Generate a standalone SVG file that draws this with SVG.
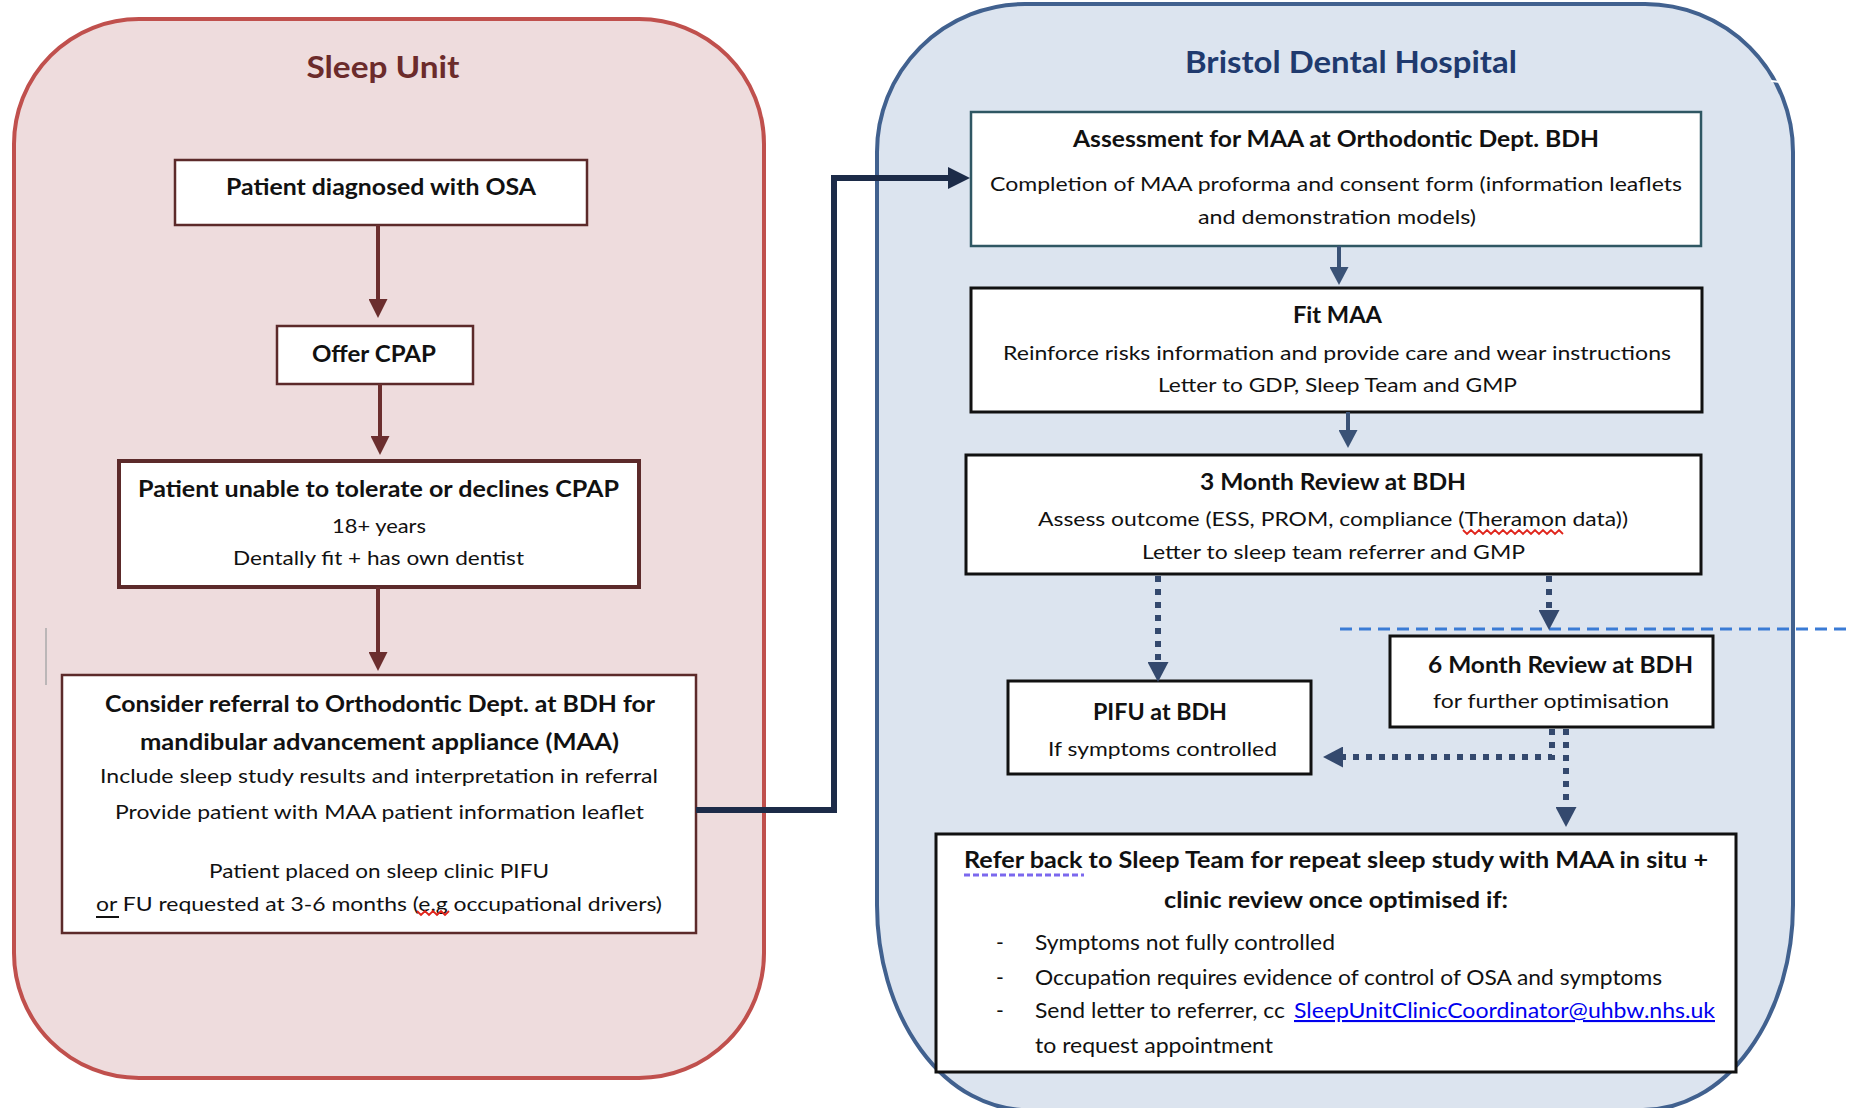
<svg xmlns="http://www.w3.org/2000/svg" width="1851" height="1108" viewBox="0 0 1851 1108">
<style>
text{font-family:Lato,"Open Sans","Liberation Sans",sans-serif;fill:#111;}
.b{font-weight:bold;}
.h{font-size:22px;font-weight:bold;}
.t{font-size:20px;}
.tb{font-size:21px;}
.c{text-anchor:middle;}
.box{fill:#fff;}
.bx-br{stroke:#5C2A2A;stroke-width:2.5;}
.bx-k{stroke:#111;stroke-width:3;}
.a-br{stroke:#6B2E2E;stroke-width:4;fill:none;}
.a-sl{stroke:#3A5276;stroke-width:4;fill:none;}
.a-dot{stroke:#34496E;stroke-width:6;stroke-dasharray:6 7;fill:none;}
</style>
<defs>
<marker id="m-br" viewBox="0 0 19 19" markerWidth="19" markerHeight="19" refX="0" refY="9.5" orient="auto" markerUnits="userSpaceOnUse"><path d="M0,0 L19,9.5 L0,19 z" fill="#6B2E2E"/></marker>
<marker id="m-nv" viewBox="0 0 22 22" markerWidth="22" markerHeight="22" refX="0" refY="11" orient="auto" markerUnits="userSpaceOnUse"><path d="M0,0 L22,11 L0,22 z" fill="#1C2B48"/></marker>
<marker id="m-sl" viewBox="0 0 18 19" markerWidth="18" markerHeight="19" refX="0" refY="9.5" orient="auto" markerUnits="userSpaceOnUse"><path d="M0,0 L18,9.5 L0,19 z" fill="#3A5276"/></marker>
<marker id="m-dt" viewBox="0 0 20 21" markerWidth="20" markerHeight="21" refX="0" refY="10.5" orient="auto" markerUnits="userSpaceOnUse"><path d="M0,0 L20,10.5 L0,21 z" fill="#34496E"/></marker>
</defs>

<g id="panel-sleep-unit">
<path d="M14,144 A125,125 0 0 1 139,19 H639 A125,125 0 0 1 764,144 V953 A125,125 0 0 1 639,1078 H139 A125,125 0 0 1 14,953 Z" fill="#EEDCDD" stroke="#C0504D" stroke-width="4"/>
<text x="383" y="78" class="c b" font-size="30" fill="#6B2B2B" style="fill:#6B2B2B" textLength="153" lengthAdjust="spacingAndGlyphs">Sleep Unit</text>
<line x1="46" y1="628" x2="46" y2="685" stroke="#AAAAAA" stroke-width="1.5"/>
</g>

<g id="panel-bdh">
<path d="M877,152 A148,148 0 0 1 1025,4 H1645 A148,148 0 0 1 1793,152 V905 A150,205 0 0 1 1643,1110 H1027 A150,205 0 0 1 877,905 Z" fill="#DCE4EF" stroke="#41618F" stroke-width="4"/>
<line x1="1771" y1="81" x2="1781" y2="82" stroke="#ffffff" stroke-width="2"/>
<text x="1351" y="73" class="c b" font-size="31" style="fill:#1F3A6E" textLength="332" lengthAdjust="spacingAndGlyphs">Bristol Dental Hospital</text>
</g>

<g id="node-osa">
<rect x="175" y="160" width="412" height="65" class="box bx-br"/>
<text x="381" y="195" class="c h" textLength="310" lengthAdjust="spacingAndGlyphs">Patient diagnosed with OSA</text>
</g>

<g id="node-cpap">
<rect x="277" y="326" width="196" height="58" class="box bx-br"/>
<text x="374" y="362" class="c h" textLength="124" lengthAdjust="spacingAndGlyphs">Offer CPAP</text>
</g>

<g id="node-declines">
<rect x="119" y="461" width="520" height="126" class="box" stroke="#5C2A2A" stroke-width="4"/>
<text x="378.5" y="497" class="c h" textLength="481" lengthAdjust="spacingAndGlyphs">Patient unable to tolerate or declines CPAP</text>
<text x="379" y="533" class="c t" textLength="94" lengthAdjust="spacingAndGlyphs">18+ years</text>
<text x="378.5" y="565" class="c t" textLength="291" lengthAdjust="spacingAndGlyphs">Dentally fit + has own dentist</text>
</g>

<g id="node-referral">
<rect x="62" y="675" width="634" height="258" class="box bx-br"/>
<text x="380" y="712" class="c h" textLength="550" lengthAdjust="spacingAndGlyphs">Consider referral to Orthodontic Dept. at BDH for</text>
<text x="379.5" y="750" class="c h" textLength="479" lengthAdjust="spacingAndGlyphs">mandibular advancement appliance (MAA)</text>
<text x="379" y="783" class="c t" textLength="558" lengthAdjust="spacingAndGlyphs">Include sleep study results and interpretation in referral</text>
<text x="379.5" y="819" class="c t" textLength="529" lengthAdjust="spacingAndGlyphs">Provide patient with MAA patient information leaflet</text>
<text x="379" y="878" class="c t" textLength="340" lengthAdjust="spacingAndGlyphs">Patient placed on sleep clinic PIFU</text>
<text x="96" y="911" class="t" textLength="566" lengthAdjust="spacingAndGlyphs">or FU requested at 3-6 months (e.g occupational drivers)</text>
<line x1="96" y1="917" x2="119" y2="917" stroke="#111" stroke-width="2"/>
<polyline points="417,911 421,915 425,911 429,915 433,911 437,915 441,911 445,915 449,911" fill="none" stroke="#E0241B" stroke-width="1.8"/>
</g>

<g id="node-assessment">
<rect x="971" y="112" width="730" height="134" class="box" stroke="#2F5763" stroke-width="2.5"/>
<text x="1336" y="147" class="c h" textLength="526" lengthAdjust="spacingAndGlyphs">Assessment for MAA at Orthodontic Dept. BDH</text>
<text x="1336" y="191" class="c t" textLength="692" lengthAdjust="spacingAndGlyphs">Completion of MAA proforma and consent form (information leaflets</text>
<text x="1337" y="224" class="c t" textLength="278" lengthAdjust="spacingAndGlyphs">and demonstration models)</text>
</g>

<g id="node-fit">
<rect x="971" y="288" width="731" height="124" class="box bx-k"/>
<text x="1337.5" y="323" class="c h" textLength="89" lengthAdjust="spacingAndGlyphs">Fit MAA</text>
<text x="1337" y="360" class="c t" textLength="668" lengthAdjust="spacingAndGlyphs">Reinforce risks information and provide care and wear instructions</text>
<text x="1337.5" y="392" class="c t" textLength="359" lengthAdjust="spacingAndGlyphs">Letter to GDP, Sleep Team and GMP</text>
</g>

<g id="node-3month">
<rect x="966" y="455" width="735" height="119" class="box bx-k"/>
<text x="1333" y="490" class="c h" textLength="266" lengthAdjust="spacingAndGlyphs">3 Month Review at BDH</text>
<text x="1333" y="526" class="c t" textLength="590" lengthAdjust="spacingAndGlyphs">Assess outcome (ESS, PROM, compliance (Theramon data))</text>
<polyline points="1463,530 1467,534 1471,530 1475,534 1479,530 1483,534 1487,530 1491,534 1495,530 1499,534 1503,530 1507,534 1511,530 1515,534 1519,530 1523,534 1527,530 1531,534 1535,530 1539,534 1543,530 1547,534 1551,530 1555,534 1559,530 1563,534" fill="none" stroke="#E0241B" stroke-width="1.8"/>
<text x="1333.5" y="559" class="c t" textLength="383" lengthAdjust="spacingAndGlyphs">Letter to sleep team referrer and GMP</text>
</g>

<g id="divider">
<line x1="1340" y1="629" x2="1851" y2="629" stroke="#3A7BD5" stroke-width="3" stroke-dasharray="12 7"/>
</g>

<g id="node-6month">
<rect x="1390" y="636" width="323" height="91" class="box bx-k"/>
<text x="1560.5" y="673" class="c h" textLength="265" lengthAdjust="spacingAndGlyphs">6 Month Review at BDH</text>
<text x="1551" y="708" class="c t" textLength="236" lengthAdjust="spacingAndGlyphs">for further optimisation</text>
</g>

<g id="node-pifu">
<rect x="1008" y="681" width="303" height="93" class="box bx-k"/>
<text x="1160" y="720" class="c h" textLength="134" lengthAdjust="spacingAndGlyphs">PIFU at BDH</text>
<text x="1162.5" y="756" class="c t" textLength="229" lengthAdjust="spacingAndGlyphs">If symptoms controlled</text>
</g>

<g id="node-referback">
<rect x="936" y="834" width="800" height="238" class="box bx-k"/>
<text x="964" y="868" class="h" textLength="744" lengthAdjust="spacingAndGlyphs">Refer back to Sleep Team for repeat sleep study with MAA in situ +</text>
<line x1="964" y1="875" x2="1084" y2="875" stroke="#7B68EE" stroke-width="3" stroke-dasharray="6 3"/>
<text x="1336" y="908" class="c h" textLength="344" lengthAdjust="spacingAndGlyphs">clinic review once optimised if:</text>
<text x="1000" y="950" class="c tb">-</text>
<text x="1000" y="985" class="c tb">-</text>
<text x="1000" y="1018" class="c tb">-</text>
<text x="1035" y="950" class="tb" textLength="300" lengthAdjust="spacingAndGlyphs">Symptoms not fully controlled</text>
<text x="1035" y="985" class="tb" textLength="627" lengthAdjust="spacingAndGlyphs">Occupation requires evidence of control of OSA and symptoms</text>
<text x="1035" y="1018" class="tb" textLength="250" lengthAdjust="spacingAndGlyphs">Send letter to referrer, cc</text>
<text x="1294" y="1018" class="tb" style="fill:#0000EE" text-decoration="underline" textLength="421" lengthAdjust="spacingAndGlyphs">SleepUnitClinicCoordinator@uhbw.nhs.uk</text>
<text x="1035" y="1053" class="tb" textLength="238" lengthAdjust="spacingAndGlyphs">to request appointment</text>
</g>

<g id="connectors">
<line x1="378" y1="225" x2="378" y2="299" class="a-br" marker-end="url(#m-br)"/>
<line x1="380" y1="384" x2="380" y2="436" class="a-br" marker-end="url(#m-br)"/>
<line x1="378" y1="587" x2="378" y2="652" class="a-br" marker-end="url(#m-br)"/>
<path d="M696,810 H834 V178 H948" fill="none" stroke="#1C2B48" stroke-width="6" marker-end="url(#m-nv)"/>
<line x1="1339" y1="246" x2="1339" y2="267" class="a-sl" marker-end="url(#m-sl)"/>
<line x1="1348" y1="412" x2="1348" y2="430" class="a-sl" marker-end="url(#m-sl)"/>
<line x1="1158" y1="576" x2="1158" y2="662" class="a-dot" marker-end="url(#m-dt)"/>
<line x1="1549" y1="576" x2="1549" y2="610" class="a-dot" marker-end="url(#m-dt)"/>
<path d="M1552,729 V757 H1343" class="a-dot" marker-end="url(#m-dt)"/>
<line x1="1566" y1="729" x2="1566" y2="807" class="a-dot" marker-end="url(#m-dt)"/>
</g>
</svg>
